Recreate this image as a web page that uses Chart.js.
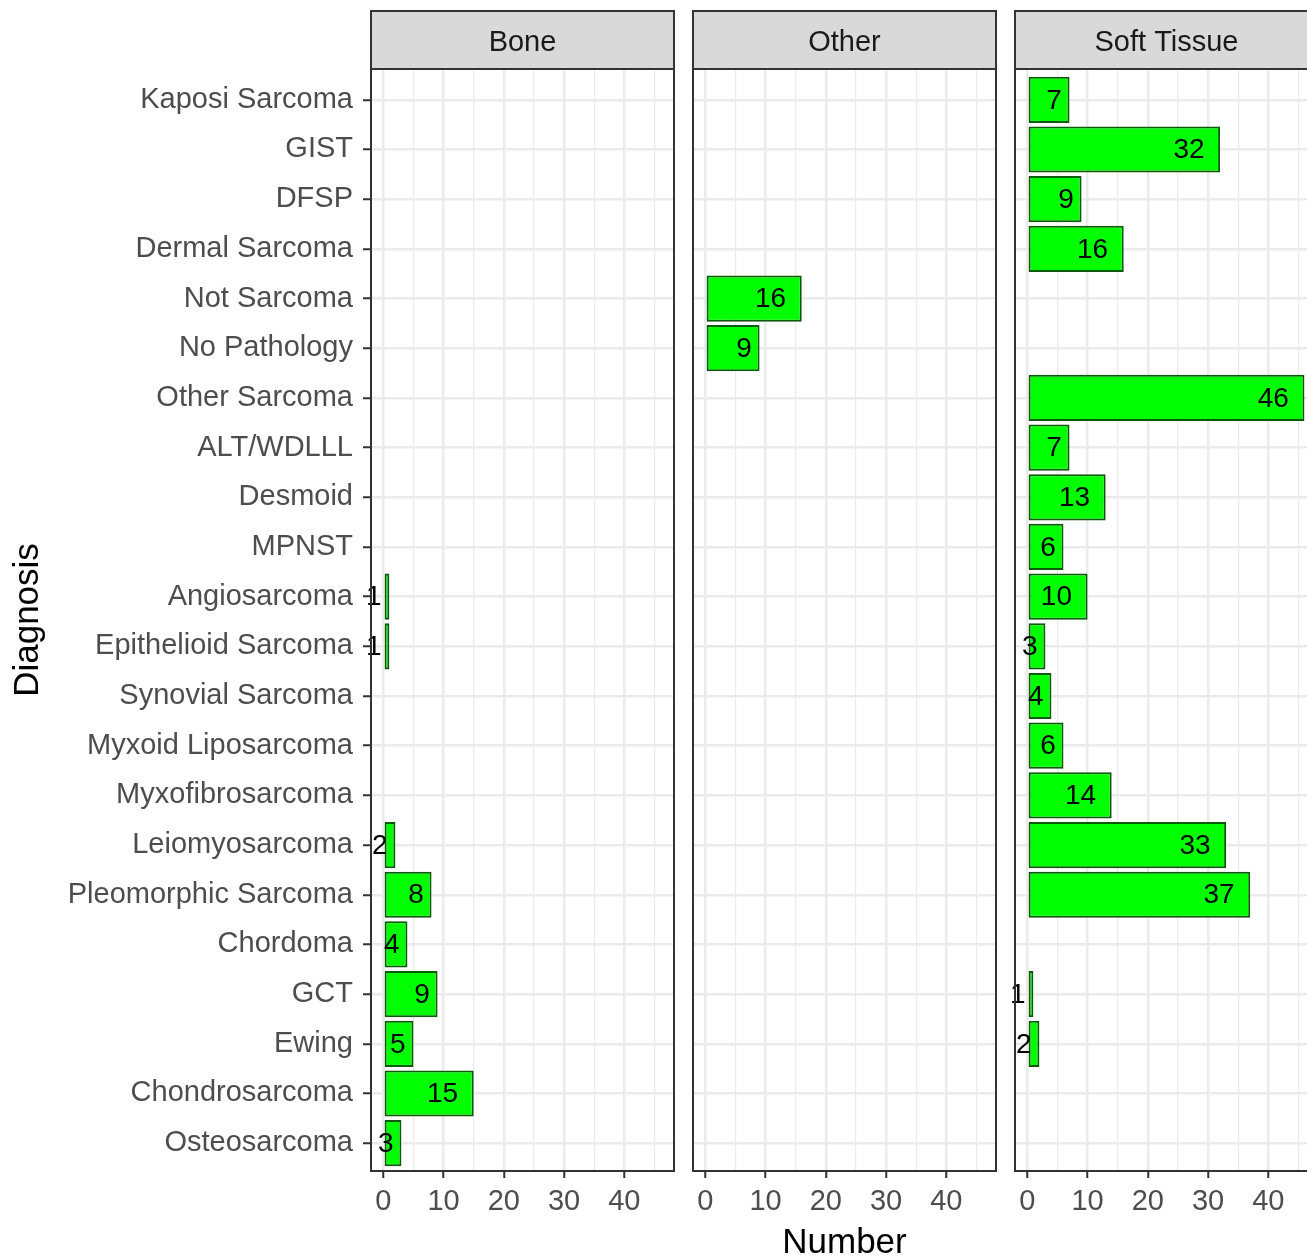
<!DOCTYPE html>
<html>
<head>
<meta charset="utf-8">
<script src="https://cdn.jsdelivr.net/npm/chart.js@4.4.0/dist/chart.umd.min.js"></script>
<style>
html, body { margin: 0; padding: 0; overflow: hidden; background: #fff; }
#wrap { position: relative; width: 1307px; height: 1259px; overflow: hidden; }
canvas { position: absolute; top: 0; }
</style>
</head>
<body>
<div id="wrap">
  <canvas id="bone" width="690" height="1259" style="left:0px"></canvas>
  <canvas id="other" width="330" height="1259" style="left:680px"></canvas>
  <canvas id="soft" width="330" height="1259" style="left:1002px"></canvas>
</div>
<script>
// categories, top to bottom
const categories = ['Kaposi Sarcoma', 'GIST', 'DFSP', 'Dermal Sarcoma', 'Not Sarcoma', 'No Pathology',
  'Other Sarcoma', 'ALT/WDLLL', 'Desmoid', 'MPNST', 'Angiosarcoma', 'Epithelioid Sarcoma',
  'Synovial Sarcoma', 'Myxoid Liposarcoma', 'Myxofibrosarcoma', 'Leiomyosarcoma',
  'Pleomorphic Sarcoma', 'Chordoma', 'GCT', 'Ewing', 'Chondrosarcoma', 'Osteosarcoma'];

const boneValues  = [null, null, null, null, null, null, null, null, null, null, 1, 1, null, null, null, 2, 8, 4, 9, 5, 15, 3];
const otherValues = [null, null, null, null, 16, 9, null, null, null, null, null, null, null, null, null, null, null, null, null, null, null, null];
const softValues  = [7, 32, 9, 16, null, null, 46, 7, 13, 6, 10, 3, 4, 6, 14, 33, 37, null, 1, 2, null, null];

const facets = ['Bone', 'Other', 'Soft Tissue'];
const xTicks = [0, 5, 10, 15, 20, 25, 30, 35, 40, 45];
const xLabels = [0, 10, 20, 30, 40];

const FONT = "'Liberation Sans', Arial, Helvetica, sans-serif";

function toPoints(values) {
  const pts = [];
  values.forEach((v, i) => { if (v !== null) pts.push({ x: v, y: i }); });
  return pts;
}

// bar labels, panel border and strip on top
const facetPlugin = {
  id: 'facet',
  afterDatasetsDraw(chart, args, opts) {
    const ctx = chart.ctx;
    const a = chart.chartArea;
    const meta = chart.getDatasetMeta(0);
    const pts = chart.data.datasets[0].data;
    ctx.save();
    ctx.font = '28px ' + FONT;
    ctx.fillStyle = '#000000';
    ctx.textAlign = 'right';
    ctx.textBaseline = 'middle';
    meta.data.forEach((bar, i) => {
      const txt = String(pts[i].x);
      const w = ctx.measureText(txt).width;
      ctx.fillText(txt, bar.x - 0.5 * w, bar.y + 1);
    });
    ctx.strokeStyle = '#333333';
    ctx.lineWidth = 2;
    ctx.strokeRect(a.left, a.top, a.right - a.left, a.bottom - a.top);
    ctx.fillStyle = '#D9D9D9';
    ctx.fillRect(a.left, 11, a.right - a.left, a.top - 11);
    ctx.strokeRect(a.left, 11, a.right - a.left, a.top - 11);
    ctx.fillStyle = '#1A1A1A';
    ctx.font = '29px ' + FONT;
    ctx.textAlign = 'center';
    ctx.fillText(opts.title, (a.left + a.right) / 2, (11 + a.top) / 2 + 3);
    ctx.restore();
  }
};

function makeChart(id, title, values, o) {
  return new Chart(document.getElementById(id), {
    type: 'bar',
    data: {
      datasets: [{
        data: toPoints(values),
        backgroundColor: '#00FF00',
        borderColor: '#0A5A0A',
        borderWidth: 2,
        borderSkipped: false,
        barPercentage: 0.93,
        categoryPercentage: 1.0
      }]
    },
    options: {
      indexAxis: 'y',
      responsive: false,
      animation: false,
      layout: { padding: { top: 69, left: o.padLeft, right: o.padRight, bottom: 0 } },
      plugins: {
        legend: { display: false },
        tooltip: { enabled: false },
        facet: { title: title }
      },
      scales: {
        x: {
          type: 'linear',
          min: -2.05,
          max: 48.25,
          bounds: 'data',
          afterBuildTicks: s => { s.ticks = xTicks.map(v => ({ value: v })); },
          afterFit: s => { s.height = 88; },
          ticks: {
            autoSkip: false,
            maxRotation: 0,
            padding: 7,
            color: '#4D4D4D',
            font: { family: FONT, size: 29 },
            callback: v => xLabels.includes(v) ? String(v) : ''
          },
          grid: {
            color: '#EBEBEB',
            lineWidth: c => (c.tick && c.tick.value % 10 === 0) ? 2.5 : 1.2,
            tickLength: 7,
            tickWidth: 2,
            tickColor: c => (c.tick && c.tick.value % 10 === 0) ? '#333333' : 'rgba(0,0,0,0)'
          },
          border: { display: false },
          title: {
            display: o.xTitle,
            text: 'Number',
            color: '#000000',
            font: { family: FONT, size: 35, lineHeight: 1 },
            padding: { top: 0, bottom: -2 }
          }
        },
        y: {
          type: 'linear',
          reverse: true,
          offset: false,
          min: -0.62,
          max: 21.56,
          bounds: 'data',
          afterBuildTicks: s => { s.ticks = categories.map((c, i) => ({ value: i })); },
          afterFit: s => { s.width = o.yWidth; },
          ticks: {
            display: o.showY,
            autoSkip: false,
            padding: 10,
            color: '#4D4D4D',
            font: { family: FONT, size: 29 },
            callback: v => categories[v]
          },
          grid: {
            offset: false,
            color: '#EBEBEB',
            lineWidth: 2.5,
            drawTicks: o.showY,
            tickLength: 8,
            tickWidth: 2,
            tickColor: '#333333'
          },
          border: { display: false },
          title: {
            display: o.showY,
            text: 'Diagnosis',
            color: '#000000',
            font: { family: FONT, size: 35 },
            padding: { top: 7, bottom: 0 }
          }
        }
      }
    },
    plugins: [facetPlugin]
  });
}

makeChart('bone', facets[0], boneValues, { padLeft: 0, padRight: 16, yWidth: 371, showY: true, xTitle: false });
makeChart('other', facets[1], otherValues, { padLeft: 13, padRight: 14, yWidth: 0, showY: false, xTitle: true });
makeChart('soft', facets[2], softValues, { padLeft: 13, padRight: 14, yWidth: 0, showY: false, xTitle: false });
</script>
</body>
</html>
